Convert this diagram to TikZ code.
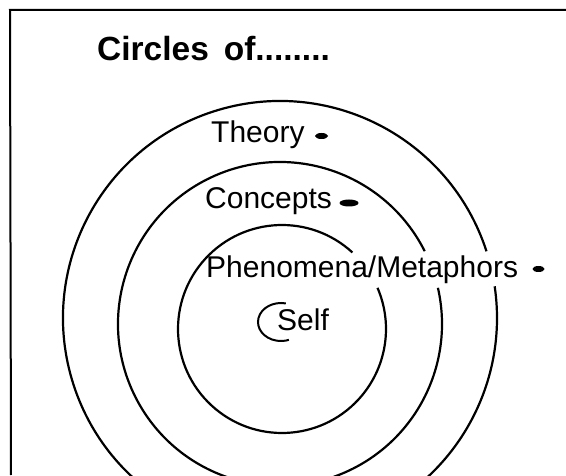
\documentclass[tikz,border=0pt]{standalone}
\usepackage{fontspec}
\setmainfont{Liberation Sans}
\usetikzlibrary{shapes.geometric}
\begin{document}
\begin{tikzpicture}[x=1pt,y=1pt,
  ring/.style={line width=2.2pt},
  lbl/.style={anchor=base west,inner sep=0pt,font=\fontsize{30}{35}\selectfont},
  ttl/.style={anchor=base west,inner sep=0pt,font=\fontsize{33.5}{38}\selectfont\bfseries},
  blob/.style={ellipse,fill=black,inner sep=0pt}]
\useasboundingbox (0,0) rectangle (566,475);
\fill[white] (0,0) rectangle (566,475);
\begin{scope}
\clip (0,0) rectangle (566,475);
% frame
\draw[line width=2pt] (566,465) -- (10,465) -- (11,0);
% circles
\draw[ring] (280,157) ++(17.9:217) arc[start angle=17.9,end angle=368.4,radius=217];
\draw[ring] (280,151) ++(26.7:162) arc[start angle=26.7,end angle=372.9,radius=162];
\draw[ring] (282,146) ++(47.4:104) arc[start angle=47.4,end angle=383.3,radius=104];
% arc around Self
\draw[line width=2pt] (281,153) ++(78:23 and 19) arc[start angle=78,end angle=290,x radius=23,y radius=19];
\end{scope}
\node[ttl] (title) at (97,414) {Circles\, of........};
\node[lbl] (theory) at (211,332) {Theory};
\node[blob,minimum width=13pt,minimum height=6pt] (d1) at (321.5,339) {};
\node[lbl] (concepts) at (205,266) {Concepts};
\node[blob,minimum width=19pt,minimum height=7pt] (d2) at (349,272) {};
\node[lbl] (phen) at (206,197) {Phenomena/Metaphors};
\node[blob,minimum width=12pt,minimum height=6pt] (d3) at (538.5,206) {};
\node[lbl] (self) at (277,144) {Self};
\end{tikzpicture}
\end{document}
